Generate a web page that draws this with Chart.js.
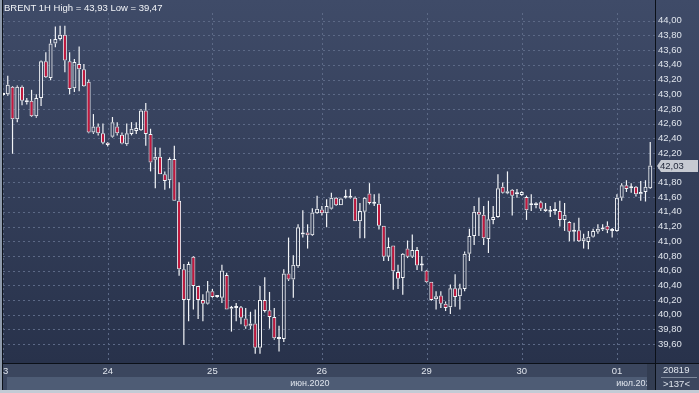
<!DOCTYPE html>
<html>
<head>
<meta charset="utf-8">
<script src="https://cdn.jsdelivr.net/npm/chart.js@4.4.0/dist/chart.umd.min.js"></script>
<style>
html, body { margin: 0; padding: 0; background: #2b354e; }
canvas { display: block; }
</style>
</head>
<body>
<canvas id="myChart" width="699" height="393"></canvas>
<script>
// дни на оси X (индекс первой свечи дня)
const dayLabels = ['23', '24', '25', '26', '29', '30', '01'];
const dayStart = [0, 22, 44, 67, 89, 109, 129];
const monthLabels = ['июн.2020', 'июл.2020'];
const monthStart = [0, 129];
const priceTicks = [39.6, 39.8, 40.0, 40.2, 40.4, 40.6, 40.8, 41.0, 41.2, 41.4, 41.6, 41.8,
    42.0, 42.2, 42.4, 42.6, 42.8, 43.0, 43.2, 43.4, 43.6, 43.8, 44.0];

// BRENT 1H свечи
const openPrice = [
    42.99, 43.00, 43.10, 42.66, 43.10, 42.91, 42.91, 42.70, 42.95, 43.45,
    43.22, 43.69, 43.75, 43.81, 43.45, 43.08, 43.41, 43.34, 43.17, 42.48,
    42.56, 42.47, 42.34, 42.42, 42.56, 42.45, 42.32, 42.46, 42.50, 42.51,
    42.78, 42.46, 42.11, 42.15, 41.91, 41.83, 42.12, 41.55, 40.62, 40.20,
    40.79, 40.39, 40.20, 40.15, 40.32, 40.24, 40.23, 40.54, 40.08, 40.09,
    40.10, 39.95, 39.85, 39.88, 39.55, 40.20, 40.06, 39.97, 39.68, 39.67,
    40.56, 40.48, 40.66, 41.09, 41.12, 41.08, 41.38, 41.43, 41.38, 41.44,
    41.59, 41.49, 41.59, 41.59, 41.59, 41.27, 41.40, 41.65, 41.51, 41.51,
    41.21, 40.79, 40.94, 40.58, 40.50, 40.90, 40.79, 40.88, 40.67, 40.60,
    40.45, 40.21, 40.26, 40.15, 40.10, 40.36, 40.25, 40.35, 40.83, 41.07,
    41.40, 41.36, 41.03, 41.29, 41.33, 41.74, 41.65, 41.70, 41.64, 41.63,
    41.60, 41.49, 41.49, 41.53, 41.44, 41.40, 41.41, 41.41, 41.29, 41.26,
    41.13, 41.15, 41.00, 40.99, 41.06, 41.13, 41.16, 41.21, 41.15, 41.14,
    41.59, 41.76, 41.72, 41.74, 41.64, 41.67, 41.72
];
const highPrice = [
    43.02, 43.25, 43.11, 43.12, 43.12, 42.95, 43.06, 43.00, 43.46, 43.57,
    43.75, 43.92, 43.93, 43.93, 43.57, 43.48, 43.65, 43.41, 43.20, 42.73,
    42.60, 42.60, 42.35, 42.69, 42.62, 42.48, 42.60, 42.62, 42.62, 42.80,
    42.88, 42.53, 42.28, 42.27, 41.95, 42.14, 42.30, 41.80, 40.69, 40.72,
    40.80, 40.39, 40.28, 40.46, 40.35, 40.25, 40.68, 40.57, 40.12, 40.16,
    40.12, 40.09, 40.04, 40.07, 40.39, 40.51, 40.31, 40.09, 39.85, 40.62,
    41.05, 40.81, 41.23, 41.42, 41.23, 41.45, 41.62, 41.48, 41.57, 41.66,
    41.60, 41.59, 41.70, 41.71, 41.61, 41.52, 41.60, 41.79, 41.64, 41.65,
    41.21, 41.05, 40.94, 40.68, 40.84, 41.01, 41.09, 40.92, 40.80, 40.61,
    40.45, 40.32, 40.32, 40.18, 40.41, 40.55, 40.42, 40.86, 41.17, 41.48,
    41.59, 41.48, 41.55, 41.48, 41.91, 41.80, 41.95, 41.71, 41.71, 41.68,
    41.62, 41.64, 41.53, 41.55, 41.52, 41.48, 41.53, 41.55, 41.52, 41.27,
    41.25, 41.32, 41.10, 41.14, 41.17, 41.23, 41.23, 41.27, 41.18, 41.64,
    41.79, 41.83, 41.79, 41.75, 41.82, 41.83, 42.35
];
const lowPrice = [
    42.98, 42.98, 42.19, 42.62, 42.85, 42.86, 42.69, 42.68, 42.84, 43.22,
    43.19, 43.64, 43.73, 43.30, 43.00, 43.03, 43.04, 43.10, 42.47, 42.46,
    42.44, 42.32, 42.29, 42.41, 42.44, 42.32, 42.30, 42.44, 42.46, 42.50,
    42.30, 41.95, 41.72, 41.91, 41.70, 41.72, 41.55, 40.53, 39.59, 39.91,
    40.07, 39.94, 39.91, 40.14, 40.23, 40.23, 40.16, 40.07, 39.77, 39.91,
    39.87, 39.81, 39.80, 39.47, 39.47, 40.03, 39.81, 39.66, 39.50, 39.63,
    40.46, 40.23, 40.64, 41.05, 40.90, 41.07, 41.37, 41.35, 41.19, 41.43,
    41.48, 41.49, 41.58, 41.58, 41.27, 41.04, 41.04, 41.50, 41.48, 41.16,
    40.73, 40.73, 40.34, 40.35, 40.27, 40.77, 40.77, 40.61, 40.59, 40.43,
    40.19, 40.07, 40.09, 40.05, 40.01, 40.11, 40.07, 40.32, 40.73, 40.95,
    41.07, 40.95, 40.84, 41.23, 41.32, 41.65, 41.64, 41.35, 41.59, 41.62,
    41.29, 41.41, 41.45, 41.41, 41.40, 41.33, 41.36, 41.20, 41.14, 41.00,
    41.00, 40.99, 40.90, 40.89, 41.05, 41.10, 41.14, 41.11, 41.05, 41.13,
    41.55, 41.67, 41.66, 41.61, 41.55, 41.54, 41.71
];
const closePrice = [
    43.01, 43.13, 42.66, 43.10, 42.91, 42.89, 42.70, 42.95, 43.45, 43.23,
    43.69, 43.75, 43.81, 43.46, 43.07, 43.44, 43.34, 43.11, 42.48, 42.56,
    42.47, 42.34, 42.31, 42.62, 42.47, 42.33, 42.47, 42.53, 42.54, 42.78,
    42.46, 42.07, 42.15, 41.91, 41.82, 42.12, 41.55, 40.62, 40.20, 40.69,
    40.39, 40.20, 40.15, 40.32, 40.24, 40.24, 40.60, 40.07, 40.09, 40.09,
    39.96, 39.84, 39.88, 39.55, 40.20, 40.05, 39.97, 39.68, 39.67, 40.56,
    40.48, 40.68, 41.19, 41.11, 41.08, 41.39, 41.44, 41.38, 41.48, 41.59,
    41.49, 41.58, 41.59, 41.60, 41.27, 41.41, 41.59, 41.52, 41.51, 41.21,
    40.79, 40.92, 40.59, 40.49, 40.83, 40.79, 40.88, 40.67, 40.67, 40.44,
    40.20, 40.25, 40.15, 40.09, 40.36, 40.24, 40.36, 40.83, 41.07, 41.40,
    41.36, 41.04, 41.30, 41.33, 41.72, 41.66, 41.68, 41.62, 41.65, 41.67,
    41.42, 41.49, 41.51, 41.44, 41.41, 41.40, 41.42, 41.29, 41.36, 41.13,
    41.13, 41.00, 41.04, 41.06, 41.14, 41.17, 41.17, 41.15, 41.14, 41.59,
    41.76, 41.71, 41.72, 41.64, 41.67, 41.74, 42.03
];

const FONT = 'Liberation Sans, Arial, sans-serif';
const RED = '#c3173d';
const WHITE = '#f2f4f7';
const GRID = '#5c6986';

function fmt(v) {
    return v.toFixed(2).replace('.', ',');
}

// фон как в терминале
const bgPlugin = {
    id: 'bg',
    beforeDraw(chart) {
        const ctx = chart.ctx;
        const area = chart.chartArea;
        const g = ctx.createLinearGradient(0, 0, 0, area.bottom);
        g.addColorStop(0, '#3f4b68');
        g.addColorStop(1, '#28324b');
        ctx.save();
        ctx.fillStyle = g;
        ctx.fillRect(0, 0, chart.width, area.bottom);
        ctx.fillStyle = '#3b465e';
        ctx.fillRect(0, area.bottom, chart.width, 14);
        ctx.fillStyle = '#4e5c75';
        ctx.fillRect(0, area.bottom + 14, area.right, 13);
        ctx.fillStyle = '#3a4660';
        ctx.fillRect(0, area.bottom + 14, 7, 13);
        ctx.fillStyle = '#3b465e';
        ctx.fillRect(area.right, area.bottom, chart.width - area.right, 27);
        ctx.restore();
    },
    beforeDatasetsDraw(chart) {
        // пунктирная сетка по тикам шкал
        const ctx = chart.ctx;
        const area = chart.chartArea;
        ctx.save();
        ctx.strokeStyle = GRID;
        ctx.lineWidth = 1;
        ctx.setLineDash([2, 3]);
        chart.scales.y.ticks.forEach(t => {
            const y = Math.round(chart.scales.y.getPixelForValue(t.value)) + 0.5;
            ctx.beginPath();
            ctx.moveTo(area.left, y);
            ctx.lineTo(area.right, y);
            ctx.stroke();
        });
        chart.scales.x.ticks.forEach(t => {
            const x = Math.round(chart.scales.x.getPixelForValue(t.value)) + 0.5;
            ctx.beginPath();
            ctx.moveTo(x, area.top);
            ctx.lineTo(x, area.bottom);
            ctx.stroke();
        });
        ctx.restore();
    }
};

const overlayPlugin = {
    id: 'overlay',
    afterDraw(chart) {
        const ctx = chart.ctx;
        const area = chart.chartArea;
        const xs = chart.scales.x;
        const ys = chart.scales.y;
        ctx.save();

        // черные разделители
        ctx.fillStyle = '#0b1018';
        ctx.fillRect(area.right, 0, 1, area.bottom + 27);
        ctx.fillRect(0, area.bottom, chart.width, 1);
        ctx.fillRect(2, 0, 1, area.bottom + 27);

        // рамка окна
        ctx.fillStyle = '#8e9aab';
        ctx.fillRect(0, 0, 2, chart.height);
        ctx.fillStyle = '#c3cbd5';
        ctx.fillRect(0, area.bottom + 27, chart.width, chart.height - area.bottom - 27);

        // заголовок
        ctx.font = '9.5px ' + FONT;
        ctx.fillStyle = '#f2f4f8';
        ctx.textBaseline = 'middle';
        ctx.textAlign = 'left';
        const hi = Math.max(...highPrice);
        const lo = Math.min(...lowPrice);
        ctx.fillText('BRENT 1H High = ' + fmt(hi) + ' Low = ' + fmt(lo), 4, 8);

        // месяцы
        ctx.save();
        ctx.beginPath();
        ctx.rect(area.left, area.bottom + 14, area.right - area.left - 8, 13);
        ctx.clip();
        ctx.font = '9px ' + FONT;
        ctx.fillStyle = '#dfe4ec';
        ctx.textAlign = 'center';
        monthLabels.forEach((m, i) => {
            const end = i + 1 < monthStart.length ? monthStart[i + 1] : openPrice.length;
            const x = xs.getPixelForValue((monthStart[i] + end) / 2);
            ctx.fillText(m, x, area.bottom + 20.5);
        });
        ctx.restore();
        ctx.fillStyle = '#333d52';
        ctx.fillRect(area.right - 8, area.bottom + 1, 8, 26);

        // правый нижний блок
        ctx.font = '9.5px ' + FONT;
        ctx.fillStyle = '#dfe4ec';
        ctx.textAlign = 'left';
        ctx.fillText('20819', 663, area.bottom + 7.5);
        ctx.fillText('>137<', 663, area.bottom + 21);
        ctx.fillStyle = '#7d889a';
        ctx.fillRect(661, area.bottom + 14, 36, 1);

        // метка текущей цены
        const last = closePrice[closePrice.length - 1];
        const py = Math.round(ys.getPixelForValue(last));
        ctx.fillStyle = '#c6cad2';
        ctx.beginPath();
        ctx.moveTo(area.right + 2, py);
        ctx.lineTo(area.right + 6, py - 6);
        ctx.lineTo(chart.width - 1, py - 6);
        ctx.lineTo(chart.width - 1, py + 6);
        ctx.lineTo(area.right + 6, py + 6);
        ctx.closePath();
        ctx.fill();
        ctx.fillStyle = '#1f2638';
        ctx.fillText(fmt(last), area.right + 5, py + 0.5);

        ctx.restore();
    }
};

const idx = openPrice.map((o, i) => i);

const ctx = document.getElementById('myChart').getContext('2d');
const myChart = new Chart(ctx, {
    type: 'bar',
    data: {
        datasets: [{
            // верхние тени
            data: idx.map(i => ({ x: i, y: [Math.max(openPrice[i], closePrice[i]), highPrice[i]] })),
            backgroundColor: WHITE,
            borderWidth: 0,
            barThickness: 1.2,
            grouped: false,
            inflateAmount: 0
        }, {
            // нижние тени
            data: idx.map(i => ({ x: i, y: [lowPrice[i], Math.min(openPrice[i], closePrice[i])] })),
            backgroundColor: WHITE,
            borderWidth: 0,
            barThickness: 1.2,
            grouped: false,
            inflateAmount: 0
        }, {
            // тела свечей
            data: idx.map(i => ({ x: i, y: [openPrice[i], closePrice[i]] })),
            backgroundColor: c => closePrice[c.dataIndex] < openPrice[c.dataIndex] ? RED : 'rgba(0,0,0,0)',
            borderColor: WHITE,
            borderWidth: 1,
            borderSkipped: false,
            barThickness: 4,
            minBarLength: 2,
            grouped: false,
            inflateAmount: 0
        }]
    },
    options: {
        responsive: false,
        animation: false,
        devicePixelRatio: 1,
        layout: {
            autoPadding: false,
            padding: { left: 3, top: 13, right: 0, bottom: 0 }
        },
        plugins: {
            legend: { display: false },
            tooltip: { enabled: false }
        },
        scales: {
            x: {
                type: 'linear',
                min: 0,
                max: 137,
                offset: false,
                afterBuildTicks: s => { s.ticks = dayStart.map(v => ({ value: v })); },
                afterFit: s => { s.height = 30; s.paddingLeft = 0; s.paddingRight = 0; },
                grid: { display: false, drawTicks: false },
                border: { display: false },
                ticks: {
                    autoSkip: false,
                    maxRotation: 0,
                    padding: 3,
                    color: '#dfe4ec',
                    font: { family: FONT, size: 9.5 },
                    callback: v => dayLabels[dayStart.indexOf(v)]
                }
            },
            y: {
                type: 'linear',
                position: 'right',
                min: 39.343,
                max: 44.105,
                afterBuildTicks: s => { s.ticks = priceTicks.map(v => ({ value: v })); },
                afterFit: s => { s.width = 44; s.paddingTop = 0; s.paddingBottom = 0; },
                grid: { display: false, drawTicks: false },
                border: { display: false },
                ticks: {
                    padding: 3,
                    color: '#dfe4ec',
                    font: { family: FONT, size: 9.5 },
                    callback: v => fmt(v)
                }
            }
        }
    },
    plugins: [bgPlugin, overlayPlugin]
});
</script>
</body>
</html>
